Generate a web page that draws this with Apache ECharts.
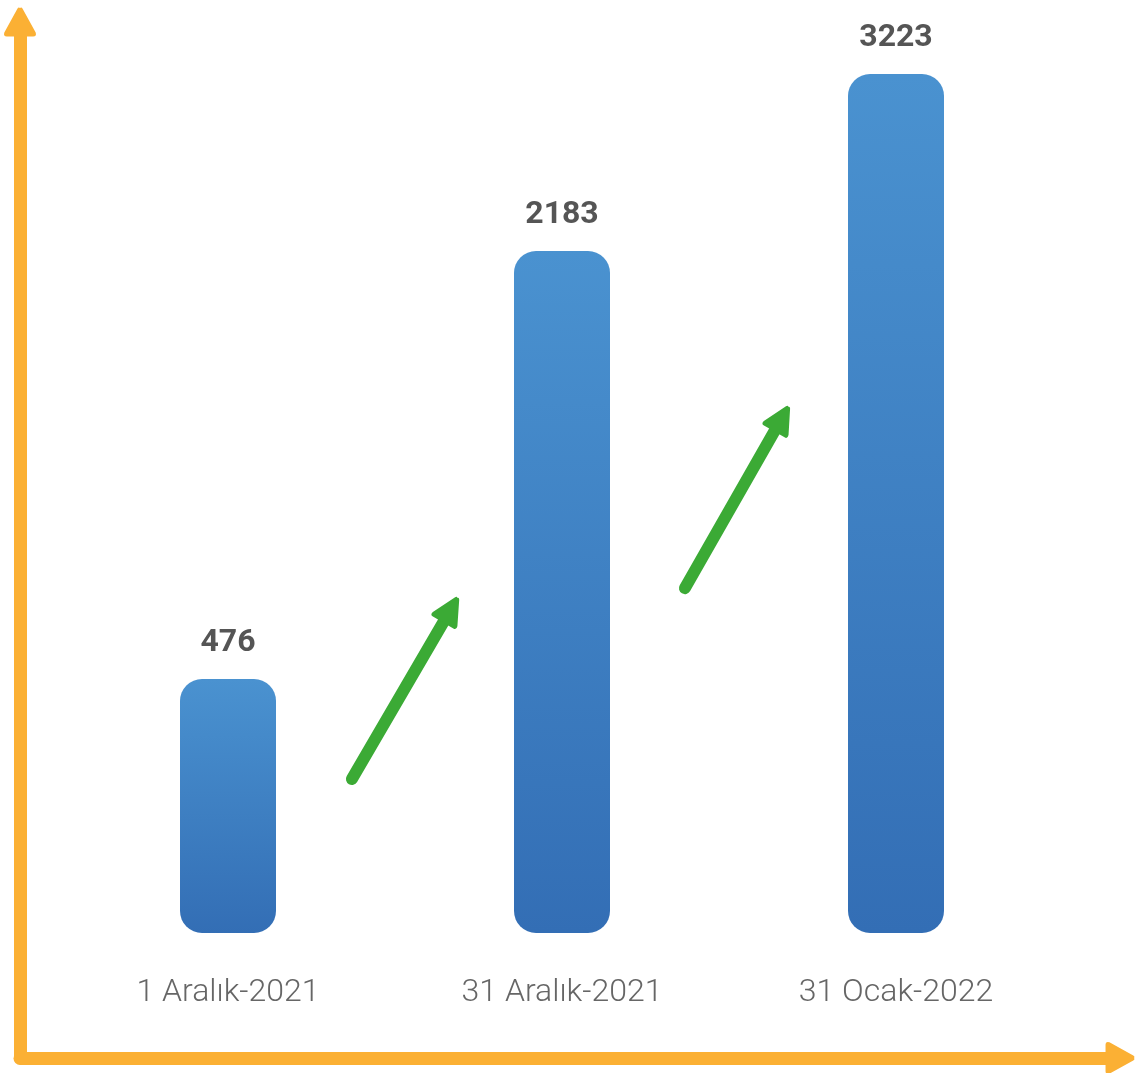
<!DOCTYPE html>
<html>
<head>
<meta charset="utf-8">
<script src="https://cdn.jsdelivr.net/npm/echarts@6/dist/echarts.min.js"></script>
<style>
html,body{margin:0;padding:0;background:#fff;}
#chart{width:1140px;height:1073px;}
</style>
</head>
<body>
<div id="chart"></div>
<script>
// Categories (x axis tick labels)
var categories = ['1 Aralık-2021', '31 Aralık-2021', '31 Ocak-2022'];
// Values printed above the bars
var values = [476, 2183, 3223];
// Bar heights as drawn in the picture (the picture is not to scale with the printed values),
// expressed in the same units as the tallest bar
var barLevels = [953, 2559, 3223];
// Green trend arrows between bars: [startIndex, startLevel, endIndex, endLevel]
var trendArrows = [
  [0.371, 578, 0.666, 1212],
  [1.368, 1294, 1.657, 1929]
];

var orange = '#FBB034';
var green = '#3BAA35';

var roundedTri = 'path://M50,3 Q54,-1 58,5 L98,78 Q102,90 90,90 L10,90 Q-2,90 2,78 L42,5 Q46,-1 50,3 Z';

var barData = barLevels.map(function (v, i) {
  return { value: v, label: { formatter: String(values[i]) } };
});

var arrowData = trendArrows.map(function (a) {
  return { coords: [[a[0], a[1]], [a[2], a[3]]] };
});

var chart = echarts.init(document.getElementById('chart'), null, { renderer: 'canvas' });
chart.setOption({
  animation: false,
  backgroundColor: '#ffffff',
  grid: [
    { left: 61, right: 77, top: 74, bottom: 140 },
    { left: 20, right: 20, top: 22, bottom: 15 }
  ],
  xAxis: [
    {
      type: 'category', gridIndex: 0, data: categories,
      axisLine: { show: false }, axisTick: { show: false },
      axisLabel: { margin: 44, fontFamily: 'Roboto', fontWeight: 300, fontSize: 32, color: '#666666' }
    },
    {
      type: 'value', gridIndex: 0, min: -0.5, max: 2.5, show: false
    },
    {
      type: 'value', gridIndex: 1, min: 0, max: 1,
      axisLine: {
        show: true, symbol: ['none', roundedTri], symbolSize: [32, 30],
        lineStyle: { color: orange, width: 13, cap: 'round' }
      },
      axisTick: { show: false }, axisLabel: { show: false }, splitLine: { show: false }
    }
  ],
  yAxis: [
    { type: 'value', gridIndex: 0, min: 0, max: 'dataMax', show: false },
    {
      type: 'value', gridIndex: 1, min: 0, max: 1,
      axisLine: {
        show: true, symbol: ['none', roundedTri], symbolSize: [32, 30],
        lineStyle: { color: orange, width: 13, cap: 'round' }
      },
      axisTick: { show: false }, axisLabel: { show: false }, splitLine: { show: false }
    }
  ],
  series: [
    {
      type: 'bar', xAxisIndex: 0, yAxisIndex: 0,
      data: barData, barWidth: 96,
      itemStyle: {
        borderRadius: 22,
        color: new echarts.graphic.LinearGradient(0, 0, 0, 1, [
          { offset: 0, color: '#4A92D0' },
          { offset: 1, color: '#336EB5' }
        ])
      },
      label: {
        show: true, position: 'top', distance: 20,
        fontFamily: 'Roboto', fontWeight: 'bold', fontSize: 32, color: '#555555'
      }
    },
    {
      type: 'lines', coordinateSystem: 'cartesian2d', xAxisIndex: 1, yAxisIndex: 0,
      data: arrowData,
      symbol: ['none', roundedTri], symbolSize: [31, 29],
      lineStyle: { color: green, width: 12, cap: 'round', opacity: 1, curveness: 0 },
      itemStyle: { color: green },
      silent: true, z: 5
    }
  ]
});
</script>
</body>
</html>
